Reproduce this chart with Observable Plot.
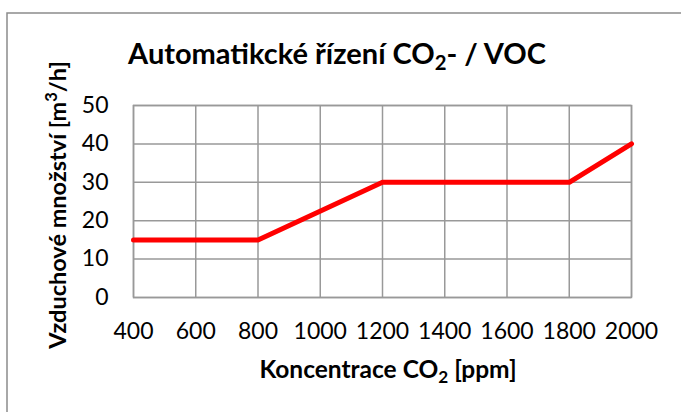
<!DOCTYPE html>
<html><head><meta charset="utf-8">
<script src="https://cdn.jsdelivr.net/npm/d3@7"></script>
<script src="https://cdn.jsdelivr.net/npm/@observablehq/plot@0.6"></script>
<style>body{margin:0;background:#fff;} svg{display:block;}</style>
</head><body><div id="chart"></div>
<script>
const co2 = [400, 800, 1200, 1800, 2000];
const airflow = [15, 15, 30, 30, 40];
const xTicks = [400, 600, 800, 1000, 1200, 1400, 1600, 1800, 2000];
const yTicks = [0, 10, 20, 30, 40, 50];
const titleParts = ["Automatikcké řízení CO", "2", "- / VOC"];
const xLabelParts = ["Koncentrace CO", "2", " [ppm]"];
const yLabelParts = ["Vzduchové množství [m", "3", "/h]"];

const data = co2.map((c, i) => ({co2: c, flow: airflow[i]}));
const font = "Lato, 'Open Sans', sans-serif";

const chart = Plot.plot({
  width: 681, height: 412,
  marginLeft: 133, marginRight: 50, marginTop: 105, marginBottom: 115,
  style: {fontFamily: font, fontSize: "23px", color: "#000", background: "#fff"},
  x: {domain: [400, 2000], ticks: xTicks, label: null},
  y: {domain: [0, 50], ticks: yTicks, label: null},
  marks: [
    Plot.gridX(xTicks, {stroke: "#999", strokeOpacity: 1, strokeWidth: 1.5}),
    Plot.gridY(yTicks, {stroke: "#999", strokeOpacity: 1, strokeWidth: 1.5}),
    Plot.frame({stroke: "#999", strokeWidth: 1.5}),
    Plot.axisX(xTicks, {tickSize: 0, tickPadding: 25, fontSize: 23, fill: "#000", tickFormat: d => String(d)}),
    Plot.axisY(yTicks, {tickSize: 0, tickPadding: 25, fontSize: 23, fill: "#000", tickFormat: d => String(d)}),
    Plot.line(data, {x: "co2", y: "flow", stroke: "#ff0000", strokeWidth: 5})
  ]
});
document.getElementById("chart").appendChild(chart);

const svg = d3.select(chart);
svg.insert("rect", ":first-child")
  .attr("x", 7).attr("y", 13).attr("width", 720).attr("height", 440)
  .attr("fill", "none").attr("stroke", "#8c8c8c").attr("stroke-width", 1.5);

function addLabel(parts, x, y, size, rotate) {
  const t = svg.append("text")
    .attr("text-anchor", "middle")
    .attr("font-family", font).attr("font-weight", "bold")
    .attr("font-size", size).attr("fill", "#000")
    .attr("transform", `translate(${x},${y})` + (rotate ? " rotate(-90)" : ""));
  const isSup = rotate;
  t.append("tspan").text(parts[0]);
  t.append("tspan").text(parts[1]).attr("font-size", size * 0.7)
    .attr("dy", isSup ? -size * 0.38 : size * 0.22);
  t.append("tspan").text(parts[2]).attr("dy", isSup ? size * 0.38 : -size * 0.22);
  return t;
}
addLabel(titleParts, 337, 64, 29, false);
addLabel(xLabelParts, 388, 378, 24.5, false);
addLabel(yLabelParts, 66, 205, 23.5, true);
</script></body></html>
